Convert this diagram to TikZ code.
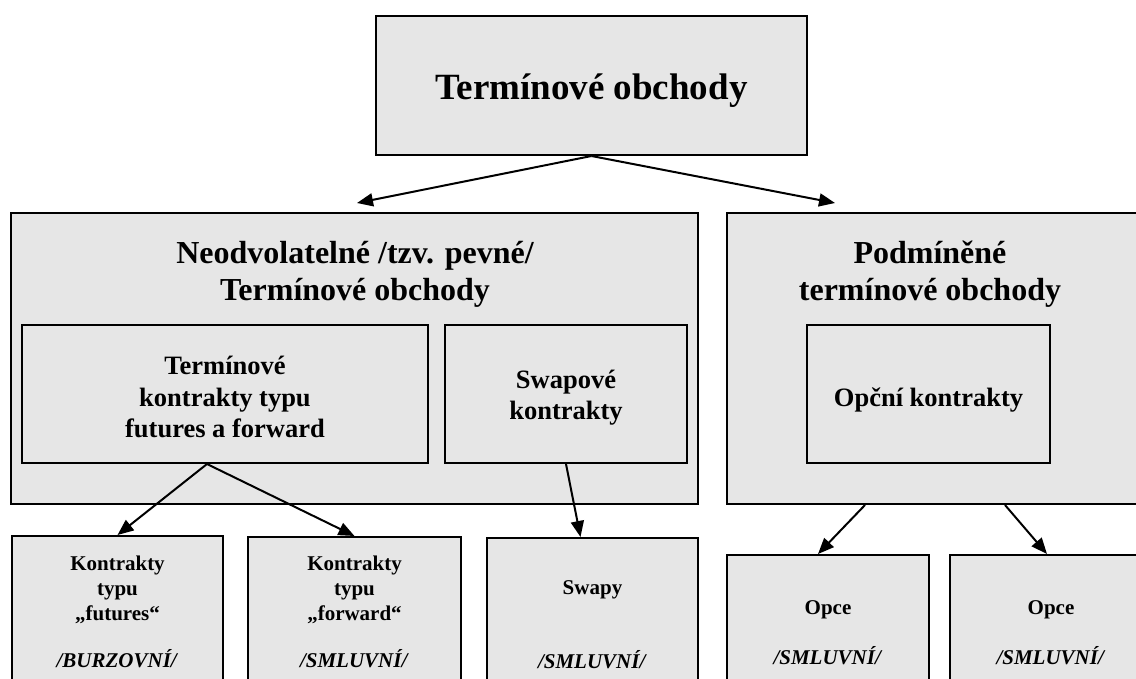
\documentclass[tikz,border=0pt]{standalone}
\usepackage{fontspec}
\setmainfont{Liberation Serif}
\usetikzlibrary{positioning}
\usetikzlibrary{arrows.meta}
\definecolor{boxgray}{RGB}{230,230,230}

\begin{document}
\begin{tikzpicture}[
    x=1pt, y=-1pt,
    line width=2pt,
    font=\bfseries
]
\tikzset{
    mybox/.style = {draw=black, fill=boxgray, inner sep=0pt, align=center},
    titletxt/.style = {font=\fontsize{37}{42}\selectfont\bfseries},
    headtxt/.style = {align=center, inner sep=0pt, font=\fontsize{32}{37}\selectfont\bfseries},
    inntxt/.style = {align=center, inner sep=0pt, font=\fontsize{26.5}{31.5}\selectfont\bfseries},
    leaftxt/.style = {align=center, inner sep=0pt, anchor=north, font=\fontsize{21}{25}\selectfont\bfseries},
    edgen/.style = {-{Triangle[length=16pt,width=13pt]}, line width=2pt}
}
\path[use as bounding box, clip] (0,0) rectangle (1136,678);
% top level
\node[mybox, titletxt, minimum width=431pt, minimum height=139pt,
      text height=34pt, text depth=7pt] at (591.5,85.5) (top) {Termínové obchody};
% the two groups
\node[mybox, minimum width=687pt, minimum height=291pt] at (354.5,358.5) (fixed) {};
\node[mybox, minimum width=418pt, minimum height=291pt] at (936,358.5) (cond) {};
\node[headtxt] at (355,274) (fixedlbl) {Neodvolatelné /tzv. pevné/\\Termínové obchody};
\node[headtxt] at (930,274) (condlbl) {Podmíněné\\termínové obchody};
% inner boxes
\node[mybox, minimum width=406pt, minimum height=138pt] at (225,394) (futfwd) {};
\node[mybox, minimum width=242pt, minimum height=138pt] at (566,394) (swapk) {};
\node[mybox, minimum width=243pt, minimum height=138pt] at (928.5,394) (opcni) {};
\node[inntxt] at (225,397) (futfwdlbl) {Termínové\\kontrakty typu\\futures a forward};
\node[inntxt] at (566,397.5) (swapklbl) {Swapové\\kontrakty};
\node[inntxt] at (928.5,400) (opcnilbl) {Opční kontrakty};
% leaves
\node[mybox, minimum width=211pt, minimum height=164pt] at (117.5,618) (futures) {};
\node[mybox, minimum width=213pt, minimum height=163pt] at (354.5,618.5) (forward) {};
\node[mybox, minimum width=211pt, minimum height=162pt] at (592.5,619) (swapy) {};
\node[mybox, minimum width=202pt, minimum height=145pt] at (828,627.5) (opce1) {};
\node[mybox, minimum width=202pt, minimum height=145pt] at (1051,627.5) (opce2) {};
\node[leaftxt] at (117.5,555) (futureslbl) {Kontrakty\\typu\\„futures“\\[22pt]\textit{/BURZOVNÍ/}};
\node[leaftxt] at (354.5,555) (forwardlbl) {Kontrakty\\typu\\„forward“\\[22pt]\textit{/SMLUVNÍ/}};
\node[leaftxt] at (592.5,580) (swapylbl) {Swapy\\[49pt]\textit{/SMLUVNÍ/}};
\node[leaftxt] at (828,600) (opce1lbl) {Opce\\[25pt]\textit{/SMLUVNÍ/}};
\node[leaftxt] at (1051,600) (opce2lbl) {Opce\\[25pt]\textit{/SMLUVNÍ/}};
% arrows
\coordinate (lefttip) at (357,203);
\coordinate (righttip) at (835,203);
\draw[edgen] (top.south) -- (lefttip);
\draw[edgen] (top.south) -- (righttip);
\draw[edgen] ([xshift=-18pt]futfwd.south) -- (futures.north);
\draw[edgen] ([xshift=-18pt]futfwd.south) -- (forward.north);
\draw[edgen] (swapk.south) -- ([xshift=-12pt]swapy.north);
\draw[edgen] ([xshift=-71pt]cond.south) -- ([xshift=-10pt]opce1.north);
\draw[edgen] ([xshift=69pt]cond.south) -- ([xshift=-4pt]opce2.north);
\end{tikzpicture}
\end{document}
